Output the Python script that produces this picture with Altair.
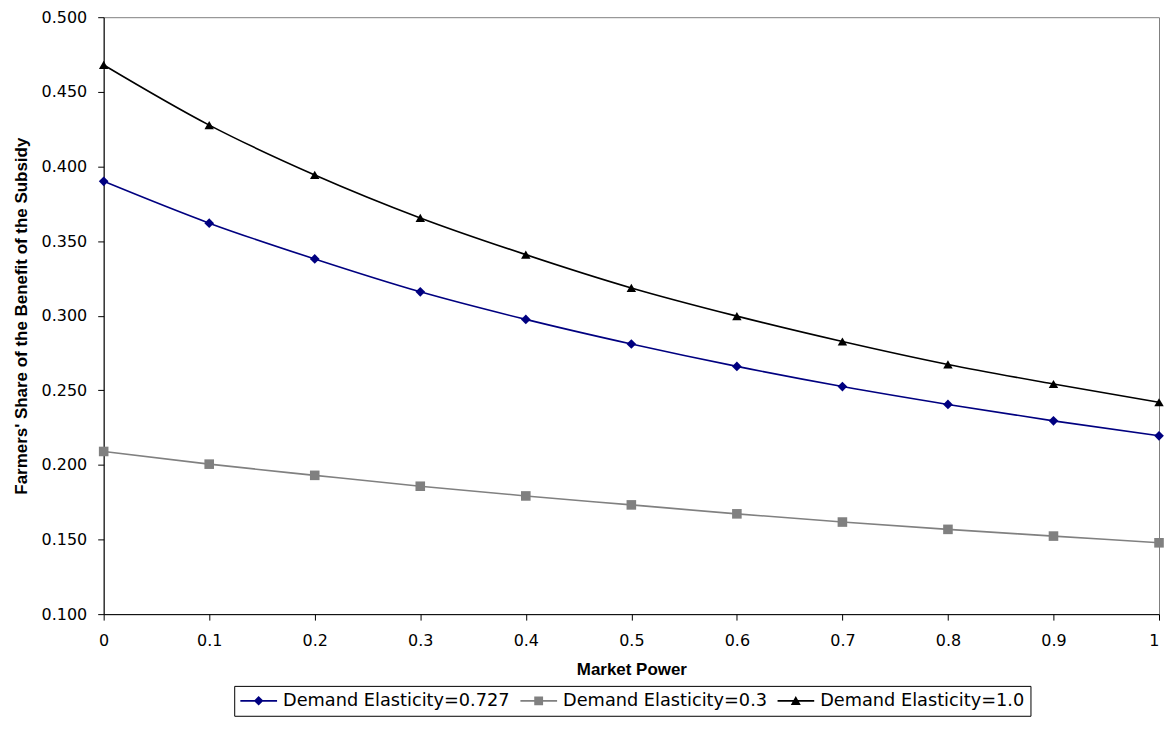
import altair as alt
import pandas as pd

market_power = [0, 0.1, 0.2, 0.3, 0.4, 0.5, 0.6, 0.7, 0.8, 0.9, 1.0]
share_e0727 = [0.390, 0.362, 0.338, 0.316, 0.2975, 0.281, 0.266, 0.2525, 0.2405, 0.2295, 0.2195]
share_e03 = [0.209, 0.2005, 0.193, 0.1857, 0.1792, 0.1732, 0.1672, 0.1617, 0.1568, 0.1523, 0.1478]
share_e10 = [0.468, 0.4277, 0.3943, 0.3655, 0.3409, 0.3186, 0.2997, 0.2827, 0.2673, 0.2542, 0.2420]

series_names = ["Demand Elasticity=0.727", "Demand Elasticity=0.3", "Demand Elasticity=1.0"]
series_colors = ["#000080", "#808080", "#000000"]
series_shapes = ["diamond", "square", "triangle-up"]

x_ticks = [0, 0.1, 0.2, 0.3, 0.4, 0.5, 0.6, 0.7, 0.8, 0.9, 1]
y_ticks = [0.1, 0.15, 0.2, 0.25, 0.3, 0.35, 0.4, 0.45, 0.5]

rows = []
for name, vals in zip(series_names, [share_e0727, share_e03, share_e10]):
    for mp, v in zip(market_power, vals):
        rows.append({"Market Power": mp, "Share": v, "Series": name})
df = pd.DataFrame(rows)

# legend symbols: a short line with the marker on top (unit coords, filled)
bar = "M-1,-0.045L1,-0.045L1,0.045L-1,0.045Z"
legend_paths = [
    bar + "M0,-0.26L0.26,0L0,0.26L-0.26,0Z",
    bar + "M-0.24,-0.24L0.24,-0.24L0.24,0.24L-0.24,0.24Z",
    bar + "M0,-0.26L0.27,0.22L-0.27,0.22Z",
]

x_enc = alt.X(
    "Market Power:Q",
    scale=alt.Scale(domain=[0, 1], nice=False),
    axis=alt.Axis(values=x_ticks, format="~g", title="Market Power", grid=False,
                  tickSize=6, labelPadding=12, titlePadding=14,
                  labelAlign={"condition": {"test": "datum.value == 1", "value": "right"},
                              "value": "center"}),
)
y_enc = alt.Y(
    "Share:Q",
    scale=alt.Scale(domain=[0.1, 0.5], nice=False, zero=False),
    axis=alt.Axis(values=y_ticks, format=".3f", grid=False,
                  title="Farmers' Share of the Benefit of the Subsidy",
                  tickSize=6, labelPadding=11, titlePadding=11),
)
color_scale = alt.Scale(domain=series_names, range=series_colors)

base = alt.Chart(df)

lines = base.mark_line(interpolate="monotone", strokeWidth=1.6).encode(
    x=x_enc, y=y_enc,
    color=alt.Color("Series:N", scale=color_scale, legend=None),
)

points = base.mark_point(filled=True, opacity=1).encode(
    x=x_enc, y=y_enc,
    color=alt.Color("Series:N", scale=color_scale, legend=None),
    shape=alt.Shape("Series:N", scale=alt.Scale(domain=series_names, range=series_shapes), legend=None),
    size=alt.Size("Series:N", scale=alt.Scale(domain=series_names, range=[95, 90, 115]), legend=None),
)

# no rows drawn here: this layer only carries the legend
legend_layer = base.transform_filter("false").mark_point(filled=True, opacity=1, size=1369).encode(
    x=x_enc, y=y_enc,
    color=alt.Color(
        "Series:N", scale=color_scale,
        legend=alt.Legend(
            title=None, orient="none", legendX=131, legendY=671, direction="horizontal",
            symbolSize=1369, symbolOpacity=1, symbolStrokeWidth=0, clipHeight=18,
            labelFont="DejaVu Sans", labelFontSize=17.8, labelColor="black", labelOffset=6,
            columnPadding=10, padding=6, strokeColor="black", fillColor="white",
            labelLimit=400,
        ),
    ),
    shape=alt.Shape("Series:N", scale=alt.Scale(domain=series_names, range=legend_paths)),
)

chart = alt.layer(lines, points, legend_layer).resolve_scale(
    color="independent", shape="independent", size="independent"
).properties(
    width=1059, height=599,
    padding={"left": 4, "top": 0, "right": 0, "bottom": 0},
).configure_view(
    stroke="#808080", strokeWidth=1,
).configure_axis(
    labelFont="DejaVu Sans", labelFontSize=16, labelColor="black",
    titleFont="Liberation Sans", titleFontSize=17, titleFontWeight="bold", titleColor="black",
    domainColor="black", tickColor="black", domainWidth=1, tickWidth=1,
)

chart.save("out.html", embed_options={"renderer": "svg", "actions": False})
